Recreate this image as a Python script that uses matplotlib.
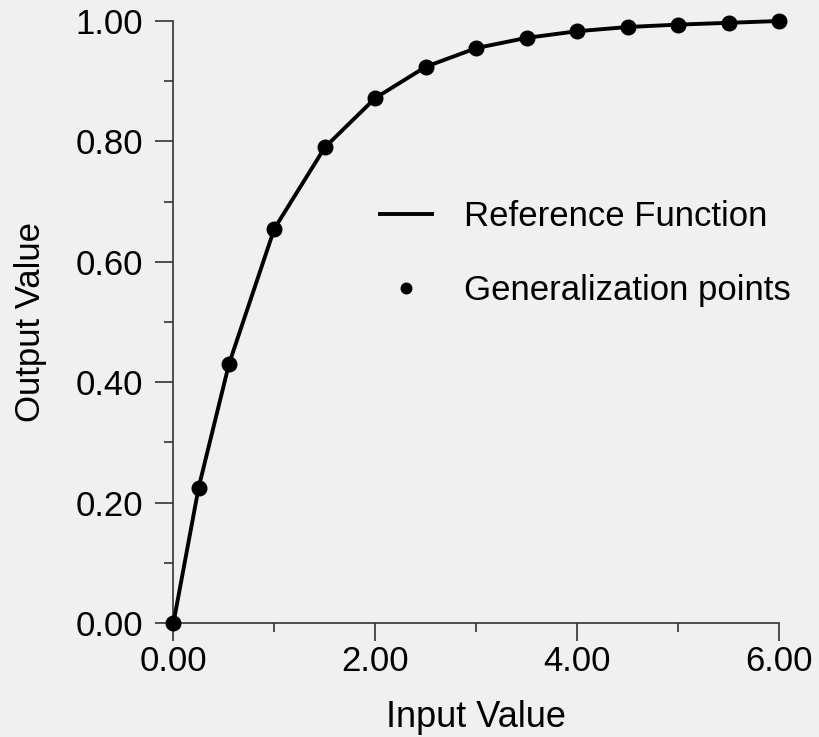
import matplotlib

matplotlib.use("Agg")
import matplotlib.pyplot as plt
from matplotlib.ticker import FormatStrFormatter, MultipleLocator

# values
input_values = [0.0, 0.25, 0.55, 1.0, 1.5, 2.0, 2.5, 3.0, 3.5, 4.0, 4.5, 5.0, 5.5, 6.0]
output_values = [0.0, 0.225, 0.43, 0.655, 0.79, 0.872, 0.924, 0.955, 0.972, 0.983,
                 0.99, 0.994, 0.997, 1.0]
x_ticks = [0, 2, 4, 6]
y_ticks = [0.0, 0.2, 0.4, 0.6, 0.8, 1.0]

plt.rcParams["font.family"] = ["Liberation Sans", "DejaVu Sans"]
bg = "#f0f0f0"

fig = plt.figure(figsize=(8.2, 7.37), dpi=100, facecolor=bg)
ax = fig.add_axes([0.2115, 0.1547, 0.7385, 0.8168], facecolor=bg)

ax.plot(input_values, output_values, color="black", linewidth=2.8,
        label="Reference Function", clip_on=False, zorder=3)
ax.plot(input_values, output_values, linestyle="none", marker="o", markersize=10.5,
        color="black", label="Generalization points", clip_on=False, zorder=4)

ax.set_xlim(0, 6)
ax.set_ylim(0, 1)
ax.set_xticks(x_ticks)
ax.set_yticks(y_ticks)
ax.xaxis.set_minor_locator(MultipleLocator(1))
ax.yaxis.set_minor_locator(MultipleLocator(0.1))
ax.xaxis.set_major_formatter(FormatStrFormatter("%.2f"))
ax.yaxis.set_major_formatter(FormatStrFormatter("%.2f"))

for side in ("top", "right"):
    ax.spines[side].set_visible(False)
for side in ("left", "bottom"):
    ax.spines[side].set_linewidth(1.2)
    ax.spines[side].set_color("#333333")

ax.tick_params(which="major", length=13, width=1.2, color="#333333", labelsize=25)
ax.tick_params(which="minor", length=6.5, width=1.2, color="#333333")
ax.tick_params(axis="x", which="major", pad=3)
ax.tick_params(axis="y", which="major", pad=9)

ax.set_xlabel("Input Value", fontsize=26, labelpad=16)
ax.set_ylabel("Output Value", fontsize=25, labelpad=20)

ax.legend(loc="upper left", bbox_to_anchor=(0.29, 0.755), frameon=False,
          fontsize=25, handlelength=1.5, handletextpad=0.92,
          labelspacing=1.19, numpoints=1, markerscale=0.72)

fig.savefig("out.png", dpi=100, facecolor=bg)
